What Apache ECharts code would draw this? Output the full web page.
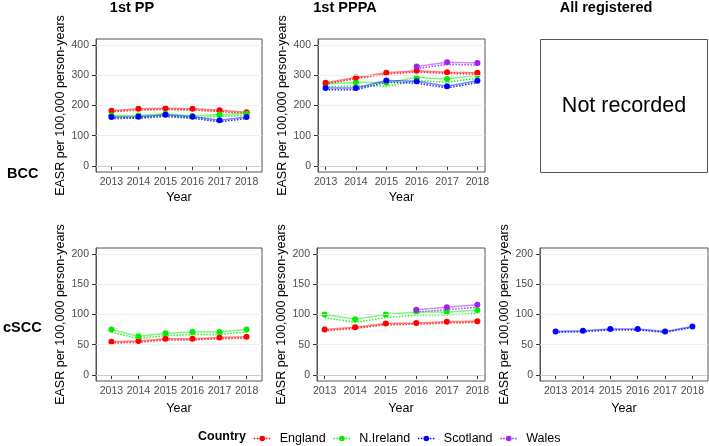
<!DOCTYPE html>
<html><head><meta charset="utf-8">
<script src="https://cdn.jsdelivr.net/npm/echarts@6/dist/echarts.min.js"></script>
<style>html,body{margin:0;padding:0;background:#fff}#c{width:709px;height:446px}</style>
</head><body><div id="c"></div><script>
// ---------------- DATA ----------------
const years = [2013, 2014, 2015, 2016, 2017, 2018];
const countries = ['England', 'N.Ireland', 'Scotland', 'Wales'];
const panelTitles = ['1st PP', '1st PPPA', 'All registered'];
const rowLabels = ['BCC', 'cSCC'];
const bccTicks = [0, 100, 200, 300, 400];
const csccTicks = [0, 50, 100, 150, 200];

// BCC, 1st PP
const bccPP_England    = [183, 189, 191, 189, 184, 178];
const bccPP_England_lo = [179, 185, 187, 185, 180, 174];
const bccPP_England_hi = [187, 193, 195, 193, 188, 182];
const bccPP_NIreland    = [167, 167, 173, 165, 170, 173];
const bccPP_NIreland_lo = [161, 161, 167, 159, 164, 167];
const bccPP_NIreland_hi = [173, 173, 179, 171, 176, 179];
const bccPP_Scotland    = [162, 163, 169, 163, 151, 162];
const bccPP_Scotland_lo = [157, 158, 164, 158, 146, 157];
const bccPP_Scotland_hi = [167, 168, 174, 168, 156, 167];

// BCC, 1st PPPA
const bccPPPA_England    = [275, 293, 308, 315, 310, 308];
const bccPPPA_England_lo = [271, 289, 304, 311, 306, 304];
const bccPPPA_England_hi = [279, 297, 312, 319, 314, 312];
const bccPPPA_NIreland    = [272, 277, 275, 293, 288, 301];
const bccPPPA_NIreland_lo = [262, 265, 264, 282, 277, 290];
const bccPPPA_NIreland_hi = [283, 289, 287, 304, 300, 313];
const bccPPPA_Scotland    = [258, 258, 283, 280, 264, 282];
const bccPPPA_Scotland_lo = [252, 252, 277, 274, 258, 276];
const bccPPPA_Scotland_hi = [264, 264, 289, 286, 270, 288];
const bccPPPA_Wales    = [null, null, null, 329, 343, 341];
const bccPPPA_Wales_lo = [null, null, null, 322, 336, 334];
const bccPPPA_Wales_hi = [null, null, null, 336, 350, 348];

// cSCC, 1st PP
const csccPP_England    = [55, 56, 60, 60, 62, 63];
const csccPP_England_lo = [53, 54, 58, 58, 60, 61];
const csccPP_England_hi = [57, 58, 62, 62, 64, 65];
const csccPP_NIreland    = [75, 64, 69, 71, 71, 75];
const csccPP_NIreland_lo = [71, 60, 65, 67, 67, 71];
const csccPP_NIreland_hi = [79, 68, 73, 75, 75, 79];

// cSCC, 1st PPPA
const csccPPPA_England    = [75, 79, 85, 86, 88, 89];
const csccPPPA_England_lo = [73, 77, 83, 84, 86, 87];
const csccPPPA_England_hi = [77, 81, 87, 88, 90, 91];
const csccPPPA_NIreland    = [100, 92, 100, 104, 104, 107];
const csccPPPA_NIreland_lo = [95, 87, 95, 99, 99, 102];
const csccPPPA_NIreland_hi = [105, 97, 105, 109, 109, 112];
const csccPPPA_Wales    = [null, null, null, 108, 112, 116];
const csccPPPA_Wales_lo = [null, null, null, 104, 108, 112];
const csccPPPA_Wales_hi = [null, null, null, 112, 116, 120];

// cSCC, All registered
const csccAll_Scotland    = [72, 73, 76, 76, 72, 80];
const csccAll_Scotland_lo = [70.5, 71.5, 74.5, 74.5, 70.5, 78.5];
const csccAll_Scotland_hi = [73.5, 74.5, 77.5, 77.5, 73.5, 81.5];

// ---------------- STYLE / LAYOUT ----------------
const colors = { 'England': '#ff0000', 'N.Ireland': '#00ee00', 'Scotland': '#0000ff', 'Wales': '#a020f0' };
const FONT = '"Liberation Sans", Arial, sans-serif';
const yName = 'EASR per 100,000 person-years';

const panels = [
  { rect: { left: 96, top: 39, width: 166, height: 133 }, xr: [2012.43, 2018.57], yr: [-20, 420], ticks: bccTicks,
    lines: [['England', bccPP_England, bccPP_England_lo, bccPP_England_hi],
            ['N.Ireland', bccPP_NIreland, bccPP_NIreland_lo, bccPP_NIreland_hi],
            ['Scotland', bccPP_Scotland, bccPP_Scotland_lo, bccPP_Scotland_hi]] },
  { rect: { left: 318, top: 39, width: 167, height: 133 }, xr: [2012.75, 2018.25], yr: [-20, 420], ticks: bccTicks,
    lines: [['N.Ireland', bccPPPA_NIreland, bccPPPA_NIreland_lo, bccPPPA_NIreland_hi],
            ['Scotland', bccPPPA_Scotland, bccPPPA_Scotland_lo, bccPPPA_Scotland_hi],
            ['England', bccPPPA_England, bccPPPA_England_lo, bccPPPA_England_hi],
            ['Wales', bccPPPA_Wales, bccPPPA_Wales_lo, bccPPPA_Wales_hi]] },
  { rect: { left: 96, top: 248, width: 166, height: 133 }, xr: [2012.43, 2018.57], yr: [-10, 210], ticks: csccTicks,
    lines: [['England', csccPP_England, csccPP_England_lo, csccPP_England_hi],
            ['N.Ireland', csccPP_NIreland, csccPP_NIreland_lo, csccPP_NIreland_hi]] },
  { rect: { left: 317, top: 248, width: 168, height: 133 }, xr: [2012.75, 2018.25], yr: [-10, 210], ticks: csccTicks,
    lines: [['England', csccPPPA_England, csccPPPA_England_lo, csccPPPA_England_hi],
            ['N.Ireland', csccPPPA_NIreland, csccPPPA_NIreland_lo, csccPPPA_NIreland_hi],
            ['Wales', csccPPPA_Wales, csccPPPA_Wales_lo, csccPPPA_Wales_hi]] },
  { rect: { left: 540, top: 248, width: 168, height: 133 }, xr: [2012.43, 2018.57], yr: [-10, 210], ticks: csccTicks,
    lines: [['Scotland', csccAll_Scotland, csccAll_Scotland_lo, csccAll_Scotland_hi]] }
];

const grid = [], xAxis = [], yAxis = [], series = [];
panels.forEach((p, i) => {
  grid.push(Object.assign({ show: true, borderColor: '#555', borderWidth: 1, backgroundColor: '#fff', containLabel: false }, p.rect));
  xAxis.push({
    type: 'value', gridIndex: i, min: p.xr[0], max: p.xr[1],
    axisLine: { show: true, lineStyle: { color: '#555', width: 1 } },
    axisTick: { show: true, length: 4, customValues: years, lineStyle: { color: '#333' } },
    axisLabel: { customValues: years, fontSize: 10.5, color: '#4d4d4d', margin: 5, fontFamily: FONT, formatter: v => String(v) },
    splitLine: { show: false },
    name: 'Year', nameLocation: 'middle', nameGap: i >= 2 ? 21 : 19,
    nameTextStyle: { fontSize: 12.5, color: '#000', fontFamily: FONT }
  });
  yAxis.push({
    type: 'value', gridIndex: i, min: p.yr[0], max: p.yr[1],
    axisLine: { show: true, lineStyle: { color: '#555', width: 1 } },
    axisTick: { show: true, length: 4, customValues: p.ticks, lineStyle: { color: '#333' } },
    axisLabel: { customValues: p.ticks, fontSize: 10.5, color: '#4d4d4d', margin: 7, fontFamily: FONT },
    splitLine: { show: false },
    name: yName, nameLocation: 'middle', nameGap: 29,
    nameTextStyle: { fontSize: 12.5, color: '#000', fontFamily: FONT }
  });
  // faint horizontal grid lines
  series.push({
    type: 'line', xAxisIndex: i, yAxisIndex: i, data: [], silent: true, z: 1,
    markLine: { silent: true, symbol: 'none', label: { show: false }, animation: false,
      lineStyle: { color: '#ebebeb', width: 0.8, type: 'solid' },
      data: p.ticks.map(t => ({ yAxis: t })) }
  });
  p.lines.forEach(([name, val, lo, hi]) => {
    const c = colors[name];
    const idx = years.map((y, k) => k).filter(k => val[k] != null);
    const stack = 'p' + i + '_' + name;
    series.push({
      type: 'line', name: name + ' CI', xAxisIndex: i, yAxisIndex: i, stack, symbol: 'none', silent: true, z: 2,
      data: idx.map(k => [years[k], lo[k]]),
      lineStyle: { color: c, type: 'dotted', width: 1.5, opacity: 0.85 }
    });
    series.push({
      type: 'line', name: name + ' CI', xAxisIndex: i, yAxisIndex: i, stack, symbol: 'none', silent: true, z: 2,
      data: idx.map(k => [years[k], hi[k] - lo[k]]),
      lineStyle: { color: c, type: 'dotted', width: 1.5, opacity: 0.85 },
      areaStyle: { color: c, opacity: 0.2 }
    });
    series.push({
      type: 'line', name, xAxisIndex: i, yAxisIndex: i, z: 3,
      data: idx.map(k => [years[k], val[k]]),
      symbol: 'circle', symbolSize: 6,
      itemStyle: { color: c },
      lineStyle: { color: c, width: 1.5, opacity: 0.5 }
    });
  });
});

const graphic = [
  { type: 'text', x: 132, y: 8, style: { text: panelTitles[0], font: 'bold 14.5px ' + FONT, fill: '#000', align: 'center', verticalAlign: 'middle', textAlign: 'center', textVerticalAlign: 'middle' } },
  { type: 'text', x: 345, y: 8, style: { text: panelTitles[1], font: 'bold 14.5px ' + FONT, fill: '#000', align: 'center', verticalAlign: 'middle', textAlign: 'center', textVerticalAlign: 'middle' } },
  { type: 'text', x: 606, y: 8, style: { text: panelTitles[2], font: 'bold 14.5px ' + FONT, fill: '#000', align: 'center', verticalAlign: 'middle', textAlign: 'center', textVerticalAlign: 'middle' } },
  { type: 'text', x: 7, y: 174, style: { text: rowLabels[0], font: 'bold 14.5px ' + FONT, fill: '#000', align: 'left', verticalAlign: 'middle', textAlign: 'left', textVerticalAlign: 'middle' } },
  { type: 'text', x: 3, y: 328, style: { text: rowLabels[1], font: 'bold 14.5px ' + FONT, fill: '#000', align: 'left', verticalAlign: 'middle', textAlign: 'left', textVerticalAlign: 'middle' } },
  { type: 'rect', shape: { x: 540.5, y: 39.5, width: 167, height: 133 }, style: { fill: '#fff', stroke: '#555', lineWidth: 1 } },
  { type: 'text', x: 624, y: 106, style: { text: 'Not recorded', font: '21.5px ' + FONT, fill: '#000', align: 'center', verticalAlign: 'middle', textAlign: 'center', textVerticalAlign: 'middle' } },
  { type: 'text', x: 198, y: 437, style: { text: 'Country', font: 'bold 12.5px ' + FONT, fill: '#000', align: 'left', verticalAlign: 'middle', textAlign: 'left', textVerticalAlign: 'middle' } }
];

const chart = echarts.init(document.getElementById('c'), null, { renderer: 'canvas' });
chart.setOption({
  animation: false,
  backgroundColor: '#fff',
  textStyle: { fontFamily: FONT },
  grid, xAxis, yAxis, series, graphic,
  legend: {
    left: 248, top: 427, itemWidth: 17, itemHeight: 7, itemGap: 7,
    textStyle: { fontSize: 12.5, color: '#000', fontFamily: FONT, padding: [0, 0, 0, 4] },
    selectedMode: false,
    data: countries.map(n => ({ name: n,
      itemStyle: { color: colors[n] }, lineStyle: { color: colors[n], type: 'dotted', width: 1.5, opacity: 1 } }))
  }
});
</script></body></html>
